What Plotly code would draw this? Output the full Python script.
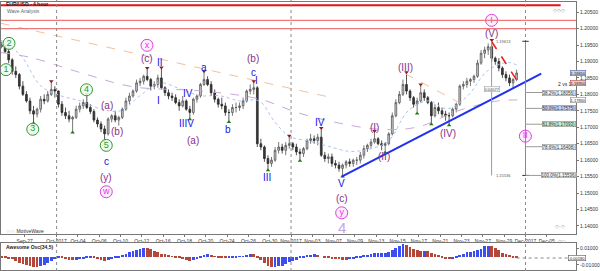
import pandas as pd
import plotly.graph_objects as go

# ---------------- EUR/USD, 8-hour candles (Sep 22 16:00 .. Nov 30 00:00) ----------------
first_open = 1.1945
highs = [1.1960,
         1.1950, 1.1958, 1.1910, 1.1885, 1.1865, 1.1840, 1.1810, 1.1790, 1.1765,
         1.1760, 1.1795, 1.1800, 1.1810, 1.1836, 1.1825, 1.1812, 1.1780, 1.1760,
         1.1750, 1.1735, 1.1765, 1.1775, 1.1785, 1.1797, 1.1770, 1.1755, 1.1730,
         1.1718, 1.1705, 1.1730, 1.1740, 1.1750, 1.1735, 1.1760, 1.1790, 1.1805,
         1.1815, 1.1845, 1.1850, 1.1860, 1.1876, 1.1850, 1.1840, 1.1860, 1.1878,
         1.1825, 1.1815, 1.1805, 1.1800, 1.1785, 1.1795, 1.1785, 1.1765, 1.1790,
         1.1800, 1.1835, 1.1866, 1.1855, 1.1840, 1.1815, 1.1790, 1.1790, 1.1775,
         1.1755, 1.1770, 1.1775, 1.1775, 1.1790, 1.1815, 1.1830, 1.1836, 1.1825,
         1.1665, 1.1645, 1.1615, 1.1610, 1.1640, 1.1655, 1.1650, 1.1655, 1.1670,
         1.1655, 1.1650, 1.1635, 1.1640, 1.1665, 1.1680, 1.1675, 1.1680, 1.1694,
         1.1625, 1.1620, 1.1620, 1.1600, 1.1595, 1.1590, 1.1600, 1.1605, 1.1605,
         1.1610, 1.1625, 1.1645, 1.1650, 1.1665, 1.1685, 1.1670, 1.1660, 1.1655,
         1.1685, 1.1745, 1.1785, 1.1810, 1.1845, 1.1863, 1.1815, 1.1795, 1.1790,
         1.1826, 1.1815, 1.1795, 1.1780, 1.1770, 1.1775, 1.1760, 1.1750, 1.1745,
         1.1760, 1.1775, 1.1830, 1.1840, 1.1850, 1.1850, 1.1860, 1.1905, 1.1935,
         1.1945, 1.1955, 1.1961, 1.1915, 1.1910, 1.1885, 1.1870, 1.1860, 1.1850,
         1.1875]
lows = [1.1940,
        1.1925, 1.1895, 1.1860, 1.1850, 1.1815, 1.1795, 1.1775, 1.1740, 1.1716,
        1.1730, 1.1745, 1.1770, 1.1775, 1.1795, 1.1790, 1.1760, 1.1735, 1.1725,
        1.1715, 1.1688, 1.1725, 1.1745, 1.1755, 1.1755, 1.1740, 1.1715, 1.1700,
        1.1685, 1.1662, 1.1675, 1.1715, 1.1715, 1.1705, 1.1725, 1.1750, 1.1770,
        1.1790, 1.1805, 1.1825, 1.1830, 1.1840, 1.1812, 1.1815, 1.1820, 1.1815,
        1.1795, 1.1785, 1.1780, 1.1770, 1.1750, 1.1760, 1.1750, 1.1728, 1.1738,
        1.1775, 1.1790, 1.1825, 1.1825, 1.1795, 1.1775, 1.1760, 1.1755, 1.1735,
        1.1720, 1.1735, 1.1745, 1.1750, 1.1755, 1.1775, 1.1800, 1.1800, 1.1640,
        1.1630, 1.1595, 1.1573, 1.1580, 1.1595, 1.1620, 1.1620, 1.1615, 1.1635,
        1.1630, 1.1615, 1.1602, 1.1610, 1.1630, 1.1650, 1.1650, 1.1645, 1.1610,
        1.1595, 1.1590, 1.1580, 1.1575, 1.1565, 1.1554, 1.1575, 1.1580, 1.1580,
        1.1585, 1.1590, 1.1605, 1.1625, 1.1635, 1.1650, 1.1645, 1.1630, 1.1627,
        1.1645, 1.1675, 1.1730, 1.1770, 1.1795, 1.1800, 1.1780, 1.1760, 1.1746,
        1.1775, 1.1780, 1.1770, 1.1713, 1.1730, 1.1740, 1.1730, 1.1720, 1.1710,
        1.1730, 1.1745, 1.1765, 1.1815, 1.1820, 1.1825, 1.1835, 1.1850, 1.1890,
        1.1910, 1.1920, 1.1900, 1.1890, 1.1870, 1.1850, 1.1840, 1.1825, 1.1820,
        1.1840]
closes = [1.1950,
          1.1930, 1.1905, 1.1870, 1.1860, 1.1825, 1.1800, 1.1780, 1.1750, 1.1740,
          1.1755, 1.1785, 1.1780, 1.1800, 1.1815, 1.1810, 1.1770, 1.1745, 1.1735,
          1.1725, 1.1730, 1.1755, 1.1765, 1.1775, 1.1760, 1.1748, 1.1722, 1.1710,
          1.1695, 1.1680, 1.1725, 1.1735, 1.1722, 1.1730, 1.1755, 1.1780, 1.1795,
          1.1810, 1.1835, 1.1840, 1.1855, 1.1845, 1.1825, 1.1830, 1.1850, 1.1820,
          1.1805, 1.1795, 1.1790, 1.1775, 1.1765, 1.1780, 1.1755, 1.1745, 1.1785,
          1.1795, 1.1830, 1.1845, 1.1830, 1.1805, 1.1785, 1.1770, 1.1765, 1.1745,
          1.1745, 1.1760, 1.1760, 1.1765, 1.1780, 1.1810, 1.1815, 1.1820, 1.1650,
          1.1640, 1.1605, 1.1590, 1.1600, 1.1630, 1.1640, 1.1630, 1.1645, 1.1650,
          1.1640, 1.1625, 1.1620, 1.1635, 1.1660, 1.1665, 1.1660, 1.1670, 1.1615,
          1.1605, 1.1610, 1.1590, 1.1585, 1.1575, 1.1585, 1.1595, 1.1590, 1.1600,
          1.1600, 1.1615, 1.1635, 1.1645, 1.1655, 1.1665, 1.1650, 1.1645, 1.1650,
          1.1680, 1.1735, 1.1775, 1.1800, 1.1830, 1.1810, 1.1790, 1.1770, 1.1780,
          1.1805, 1.1790, 1.1775, 1.1735, 1.1760, 1.1750, 1.1740, 1.1735, 1.1735,
          1.1755, 1.1770, 1.1825, 1.1830, 1.1840, 1.1845, 1.1855, 1.1895, 1.1925,
          1.1935, 1.1945, 1.1910, 1.1900, 1.1880, 1.1860, 1.1850, 1.1835, 1.1845,
          1.1865]

# Awesome Oscillator (34,5), in thousandths
ao_thousandths = [
    -0.6, -1.8, -2.6, -3.5, -5.3, -7.1, -8.6, -10.0, -11.2, -12.1,
    -12.4, -11.4, -10.0, -7.6, -5.3, -2.7, -0.9, -1.2, -2.9, -3.9,
    -4.6, -4.1, -2.9, -2.4, -1.5, -0.6, -1.2, -2.9, -4.4, -5.8,
    -4.5, -3.2, -1.8, -0.6, 1.4, 3.2, 4.9, 6.5, 8.2, 9.4,
    10.2, 10.0, 8.6, 6.7, 5.1, 3.5, 2.4, 1.1, 0.1, -0.8,
    -2.0, -3.5, -4.6, -5.3, -4.7, -3.2, -1.3, 0.9, 2.4, 1.9,
    0.2, -0.8, -1.5, -1.8, -1.8, -1.4, -0.9, -0.5, 0.4, 1.2,
    2.9, 2.7, -1.1, -4.5, -8.0, -10.9, -12.7, -12.6, -11.5, -10.7,
    -8.8, -6.5, -4.8, -3.9, -2.1, -0.7, 0.6, 1.6, 2.4, 1.5,
    0.0, -1.4, -2.2, -2.7, -3.2, -3.5, -3.6, -4.1, -3.2, -2.4,
    -1.8, -0.6, 0.6, 2.0, 2.9, 3.8, 4.2, 4.7, 4.7, 5.3,
    7.1, 10.0, 12.6, 14.7, 13.5, 11.4, 9.4, 7.6, 6.5, 6.5,
    5.9, 4.6, 2.7, 0.8, -0.9, -2.4, -2.9, -2.5, -1.2, 0.6,
    2.9, 4.9, 5.5, 6.2, 7.6, 8.8, 11.8, 12.6, 12.1, 10.2,
    8.2, 4.7, 2.6, 0.8, -0.6, -1.8]

# pivot bars marked with small triangles
pivot_high_bars = [14, 24, 41, 45, 57, 71, 81, 90, 105, 114, 118, 138]
pivot_low_bars = [9, 20, 29, 53, 64, 75, 84, 96, 108, 117, 121, 126]

# x-axis date ticks
tick_dates = ["2017-09-27", "2017-10-02", "2017-10-04", "2017-10-06", "2017-10-10",
              "2017-10-12", "2017-10-16", "2017-10-18", "2017-10-20", "2017-10-24",
              "2017-10-26", "2017-10-30", "2017-11-01", "2017-11-03", "2017-11-07",
              "2017-11-09", "2017-11-13", "2017-11-15", "2017-11-17", "2017-11-21",
              "2017-11-23", "2017-11-27", "2017-11-29", "2017-12-01", "2017-12-05"]
tick_text = ["Sep-27", "Oct-2017", "Oct-04", "Oct-06", "Oct-10", "Oct-12", "Oct-16",
             "Oct-18", "Oct-20", "Oct-24", "Oct-26", "Oct-30", "Nov-2017", "Nov-03",
             "Nov-07", "Nov-09", "Nov-13", "Nov-15", "Nov-17", "Nov-21", "Nov-23",
             "Nov-27", "Nov-29", "Dec-2017", "Dec-05"]
month_starts = ["2017-10-02", "2017-11-01", "2017-12-01"]

price_ticks = [1.140, 1.145, 1.150, 1.155, 1.160, 1.165, 1.170, 1.175, 1.180,
               1.185, 1.190, 1.195, 1.200, 1.205]
ao_ticks = [-0.01, 0.01]

# resistance levels
resistance_levels = [1.2071, 1.2025, 1.2000]

# moving averages (day position, price)
slow_ma_days = [-5.22, -2.42, 2.24, 7.18, 13.42, 19.01, 22.74, 26.47, 30.20, 33.92, 37.65, 41.38, 43.24]
slow_ma_vals = [1.1927, 1.1912, 1.1866, 1.1823, 1.1811, 1.1786, 1.1743, 1.1713, 1.1694, 1.1701, 1.1750, 1.1780, 1.1783]
fast_ma_days = [-5.22, -3.36, -1.49, 0.37, 2.24, 4.10, 5.96, 7.83, 9.69, 11.56, 13.42, 15.28, 17.15,
                19.01, 20.41, 21.81, 23.67, 25.54, 27.40, 29.26, 31.13, 32.99, 34.86, 36.72, 38.58,
                40.45, 42.31, 43.24]
fast_ma_vals = [1.1964, 1.1918, 1.1826, 1.1796, 1.1780, 1.1756, 1.1750, 1.1796, 1.1835, 1.1817,
                1.1796, 1.1796, 1.1780, 1.1780, 1.1719, 1.1673, 1.1658, 1.1642, 1.1627, 1.1633,
                1.1658, 1.1750, 1.1780, 1.1756, 1.1796, 1.1872, 1.1897, 1.1888]

# trend lines (day position, price)
downtrend_days, downtrend_vals = [-5.22, 25.54], [1.2016, 1.1792]
pullback_days, pullback_vals = [32.71, 37.65], [1.1863, 1.1777]
support_days, support_vals = [26.75, 45.48], [1.1550, 1.1863]
resist_days, resist_vals = [40.82, 43.34], [1.1961, 1.1835]

# Fibonacci retracement of the Nov 7 low -> Nov 27 high swing
swing_high, swing_low = 1.19613, 1.15536
fib_ratios = [0.382, 0.5, 0.618, 0.786, 1.0]
fib_fills = ["#f4f4f4", "#c9d1f2", "#cdeccd", "#f4f4f4", "#f4f4f4"]

# wave labels: (text, day, price)
circled_green = [("2", -4.47, 1.1955), ("1", -4.75, 1.1875), ("3", -2.24, 1.1694),
                 ("4", 2.80, 1.1814), ("5", 4.66, 1.1645)]
circled_magenta = [("x", 8.48, 1.1949), ("w", 4.66, 1.1504), ("y", 26.75, 1.1440),
                   ("I", 40.82, 1.2025), ("II", 43.99, 1.1673)]
purple_labels = [("(c)", 8.48, 1.1909), ("(a)", 4.75, 1.1765), ("(b)", 5.68, 1.1688),
                 ("(y)", 4.66, 1.1547), ("(a)", 12.77, 1.1661), ("(b)", 18.45, 1.1909),
                 ("(c)", 26.75, 1.1483), ("(I)", 29.82, 1.1700), ("(II)", 30.75, 1.1612),
                 ("(III)", 32.71, 1.1881), ("(IV)", 36.72, 1.1682), ("(V)", 40.82, 1.1986)]
blue_labels = [("c", 4.66, 1.1596), ("I", 9.60, 1.1780), ("II", 9.69, 1.1897),
               ("IV", 12.30, 1.1802), ("IIIV", 12.21, 1.1710), ("a", 13.79, 1.1881),
               ("b", 16.12, 1.1694), ("c", 18.45, 1.1866), ("I", 18.73, 1.1842),
               ("III", 19.76, 1.1547), ("IV", 24.70, 1.1713), ("V", 26.75, 1.1529)]
big_label = ("4", 26.75, 1.1394)

# ---------------- calendar: position of each session in trading days from Oct 2 ----------------
sessions = list(pd.bdate_range("2017-09-22", "2017-12-08"))
origin = sessions.index(pd.Timestamp("2017-10-02"))


def day_pos(date_str):
    return sessions.index(pd.Timestamp(date_str)) - origin


start, end = pd.Timestamp("2017-09-22 16:00"), pd.Timestamp("2017-11-30 00:00")
bar_x = []
for i, d in enumerate(sessions):
    for h in (0, 8, 16):
        ts = d + pd.Timedelta(hours=h)
        if start <= ts <= end:
            bar_x.append(i - origin + h / 24 + 1 / 6)

opens = [first_open] + closes[:-1]
ao = [v / 1000 for v in ao_thousandths]
ao_colors = ["#3c4ef0" if i > 0 and ao[i] >= ao[i - 1] else "#b5473a" for i in range(len(ao))]

X_RANGE = [-5.22, 48.74]
Y_RANGE = [1.13756, 1.20807]
AO_RANGE = [-0.0159, 0.0159]
W, H = 600, 271
PLOT_W = 579
FONT = "Liberation Sans"

fig = go.Figure()

# moving averages and trend lines drawn behind the candles
fig.add_trace(go.Scatter(x=slow_ma_days, y=slow_ma_vals, mode="lines", line_shape="spline",
                         line=dict(color="#c9a8d8", width=1, dash="dash"), hoverinfo="skip"))
fig.add_trace(go.Scatter(x=fast_ma_days, y=fast_ma_vals, mode="lines", line_shape="spline",
                         line=dict(color="#a9c4f0", width=1, dash="dot"), hoverinfo="skip"))
for dx, dy in [(downtrend_days, downtrend_vals), (pullback_days, pullback_vals)]:
    fig.add_trace(go.Scatter(x=dx, y=dy, mode="lines",
                             line=dict(color="#f5c09a", width=1, dash="dash"), hoverinfo="skip"))

# candles
fig.add_trace(go.Candlestick(
    x=bar_x, open=opens, high=highs, low=lows, close=closes,
    increasing=dict(line=dict(color="#555555", width=0.8), fillcolor="#cfcfcf"),
    decreasing=dict(line=dict(color="#2a2a2a", width=0.8), fillcolor="#3a3a3a"),
    whiskerwidth=0, hoverinfo="skip"))

# pivot triangles
fig.add_trace(go.Scatter(x=[bar_x[i] for i in pivot_high_bars], y=[highs[i] + 0.0004 for i in pivot_high_bars],
                         mode="markers", marker=dict(symbol="triangle-down", size=4, color="#8b1a1a"),
                         hoverinfo="skip"))
fig.add_trace(go.Scatter(x=[bar_x[i] for i in pivot_low_bars], y=[lows[i] - 0.0004 for i in pivot_low_bars],
                         mode="markers", marker=dict(symbol="triangle-up", size=4, color="#1f7a1f"),
                         hoverinfo="skip"))

# support / resistance trend lines
fig.add_trace(go.Scatter(x=support_days, y=support_vals, mode="lines",
                         line=dict(color="#2030f0", width=2), hoverinfo="skip"))
fig.add_trace(go.Scatter(x=resist_days, y=resist_vals, mode="lines",
                         line=dict(color="#f02020", width=1.6, dash="dash"), hoverinfo="skip"))

# circled wave degrees
for items, color, fill in [(circled_green, "#2f9a2f", "rgba(235,250,235,0.9)"),
                           (circled_magenta, "#e040e0", "rgba(253,235,253,0.9)")]:
    fig.add_trace(go.Scatter(
        x=[t[1] for t in items], y=[t[2] for t in items], mode="markers+text",
        text=[t[0] for t in items], textposition="middle center",
        textfont=dict(family=FONT, size=9, color=color),
        marker=dict(symbol="circle", size=12, color=fill, line=dict(color=color, width=1)),
        hoverinfo="skip"))

# Awesome Oscillator
fig.add_trace(go.Bar(x=bar_x, y=ao, marker=dict(color=ao_colors, line=dict(width=0)),
                     width=0.26, xaxis="x2", yaxis="y2", hoverinfo="skip"))

annotations = []
for txt, d, p in purple_labels:
    annotations.append(dict(x=d, y=p, text=txt, showarrow=False,
                            font=dict(family=FONT, size=10, color="#86308a")))
for txt, d, p in blue_labels:
    annotations.append(dict(x=d, y=p, text=txt, showarrow=False,
                            font=dict(family=FONT, size=10, color="#1414e6")))
annotations.append(dict(x=big_label[1], y=big_label[2], text=big_label[0], showarrow=False,
                        font=dict(family=FONT, size=15, color="#c6a6e6")))

shapes = []
# resistance levels
for k, lvl in enumerate(resistance_levels):
    shapes.append(dict(type="line", xref="x", yref="y", x0=X_RANGE[0],
                       x1=47.3 if k == 0 else X_RANGE[1], y0=lvl, y1=lvl,
                       line=dict(color="#e81010" if k == 0 else "#f07878", width=2 if k == 0 else 1.3)))
# month separators
for m in month_starts:
    dm = day_pos(m)
    shapes.append(dict(type="line", xref="x", yref="paper", x0=dm, x1=dm, y0=0, y1=1,
                       line=dict(color="#8a8a8a", width=1, dash="dot")))

# measuring tool over the swing
meas_x = 40.82
shapes.append(dict(type="line", xref="x", yref="y", x0=meas_x, x1=meas_x, y0=swing_high, y1=swing_low,
                   line=dict(color="#9a9a9a", width=1)))
annotations.append(dict(x=meas_x + 0.25, y=swing_high, text=f"{swing_high:.5f}", showarrow=False,
                        xanchor="left", font=dict(family=FONT, size=4, color="#555")))
annotations.append(dict(x=meas_x + 0.25, y=swing_low, text=f"{swing_low:.5f}", showarrow=False,
                        xanchor="left", font=dict(family=FONT, size=4, color="#555")))
annotations.append(dict(x=meas_x, y=(swing_high + swing_low) / 2 + 0.006, text=f"{swing_high - swing_low:.5f}",
                        showarrow=False, bgcolor="#f6f6f6", bordercolor="#999", borderwidth=0.5, borderpad=0,
                        font=dict(family=FONT, size=4, color="#555")))

# Fibonacci retracement tool
fib_x = day_pos("2017-12-01")
shapes.append(dict(type="line", xref="x", yref="y", x0=fib_x, x1=fib_x, y0=swing_high, y1=swing_low,
                   line=dict(color="#8a8a8a", width=1)))
shapes.append(dict(type="line", xref="x", yref="y", x0=fib_x - 0.3, x1=fib_x + 0.3, y0=swing_high, y1=swing_high,
                   line=dict(color="#333", width=1)))
shapes.append(dict(type="line", xref="x", yref="y", x0=fib_x - 0.3, x1=fib_x + 0.3, y0=swing_low, y1=swing_low,
                   line=dict(color="#333", width=1)))
for r, fill in zip(fib_ratios, fib_fills):
    lvl = swing_high - r * (swing_high - swing_low)
    shapes.append(dict(type="line", xref="x", yref="y", x0=fib_x, x1=46.0, y0=lvl, y1=lvl,
                       line=dict(color="#9a9a9a", width=1)))
    annotations.append(dict(x=47.15, y=lvl, text=f"{r * 100:.1f}%({lvl:.5f})", showarrow=False,
                            bgcolor=fill, bordercolor="#8a8a8a", borderwidth=0.6, borderpad=0,
                            font=dict(family=FONT, size=4.5, color="#333")))
annotations.append(dict(x=47.7, y=1.1833, text="2 vs 1", showarrow=False,
                        font=dict(family=FONT, size=5, color="#222")))


def px_x(px):
    return px / PLOT_W


def px_y(py):
    return 1 - py / H


# chart titles and captions
annotations += [
    dict(xref="paper", yref="paper", x=px_x(3), y=px_y(4.5), text="<b>EUR/USD - 4 hour</b>", showarrow=False,
         xanchor="left", yanchor="middle", font=dict(family=FONT, size=5, color="#222")),
    dict(xref="paper", yref="paper", x=px_x(4), y=px_y(11.5), text="Wave Analysis", showarrow=False,
         xanchor="left", yanchor="middle", font=dict(family=FONT, size=5, color="#666")),
    dict(xref="paper", yref="paper", x=px_x(3), y=px_y(231), text="<span style='color:#aaa'>○○○</span> MotiveWave",
         showarrow=False, xanchor="left", yanchor="middle", font=dict(family=FONT, size=5, color="#333")),
    dict(xref="paper", yref="paper", x=px_x(3), y=px_y(247), text="<b>Awesome Osc(34,5)</b>", showarrow=False,
         xanchor="left", yanchor="middle", font=dict(family=FONT, size=5, color="#222")),
    dict(xref="paper", yref="paper", x=px_x(570), y=px_y(4.5), text="◇◇◇", showarrow=False,
         font=dict(family=FONT, size=5, color="#999")),
    dict(xref="paper", yref="paper", x=px_x(570), y=px_y(231), text="◇·◇", showarrow=False,
         font=dict(family=FONT, size=5, color="#999")),
    dict(xref="paper", yref="paper", x=px_x(570), y=px_y(246), text="◇□", showarrow=False,
         font=dict(family=FONT, size=5, color="#999")),
]

# current value boxes on the price axis
last_close = closes[-1]
box_font = dict(family=FONT, size=4, color="#222")
annotations.append(dict(xref="paper", yref="y", x=px_x(589), y=last_close, text=f"{last_close:.5f}",
                        showarrow=False, bgcolor="#c9d1f2", bordercolor="#5566aa", borderwidth=0.6, borderpad=0,
                        font=box_font))
annotations.append(dict(xref="paper", yref="y", x=px_x(589), y=resist_vals[-1], text=f"{resist_vals[-1]:.5f}",
                        showarrow=False, bgcolor="#f4c8c8", bordercolor="#aa5555", borderwidth=0.6, borderpad=0,
                        font=box_font))
annotations.append(dict(xref="paper", yref="y", x=px_x(589), y=slow_ma_vals[-1], text=f"{slow_ma_vals[-1]:.5f}",
                        showarrow=False, bgcolor="#ffffff", bordercolor="#888", borderwidth=0.6, borderpad=0,
                        font=box_font))
annotations.append(dict(xref="paper", yref="y2", x=px_x(589), y=ao[-1], text=f"{ao[-1]:.5f}",
                        showarrow=False, bgcolor="#ffffff", bordercolor="#555", borderwidth=0.6, borderpad=0,
                        font=box_font))
shapes.append(dict(type="line", xref="x", yref="y2", x0=bar_x[-1], x1=X_RANGE[1], y0=ao[-1], y1=ao[-1],
                   line=dict(color="#888", width=1, dash="dot")))

main_dom = [1 - 234 / H, 1 - 2 / H]
osc_dom = [1 - 270 / H, 1 - 243 / H]
axis_common = dict(showline=True, mirror=True, linecolor="#777", linewidth=1, showgrid=False, zeroline=False)

fig.update_layout(
    width=W, height=H, margin=dict(l=0, r=W - PLOT_W, t=0, b=0),
    paper_bgcolor="white", plot_bgcolor="white", showlegend=False, bargap=0,
    font=dict(family=FONT, size=6, color="#333"),
    xaxis=dict(domain=[0, 1], anchor="y", range=X_RANGE, rangeslider=dict(visible=False),
               tickmode="array", tickvals=[day_pos(d) for d in tick_dates], ticktext=tick_text,
               tickangle=0, ticks="outside", ticklen=2, tickcolor="#777",
               tickfont=dict(size=5, color="#333"), **axis_common),
    xaxis2=dict(domain=[0, 1], anchor="y2", range=X_RANGE, matches="x", showticklabels=False, **axis_common),
    yaxis=dict(domain=main_dom, anchor="x", side="right", range=Y_RANGE, tickmode="array",
               tickvals=price_ticks, ticktext=[f"{v:.5f}" for v in price_ticks],
               ticks="outside", ticklen=2, tickcolor="#777", tickfont=dict(size=5, color="#333"), **axis_common),
    yaxis2=dict(domain=osc_dom, anchor="x2", side="right", range=AO_RANGE, tickmode="array",
                tickvals=ao_ticks, ticktext=[f"{v:.5f}" for v in ao_ticks],
                ticks="outside", ticklen=2, tickcolor="#777", tickfont=dict(size=5, color="#333"), **axis_common),
    annotations=annotations, shapes=shapes,
)

fig.write_html("out.html")
